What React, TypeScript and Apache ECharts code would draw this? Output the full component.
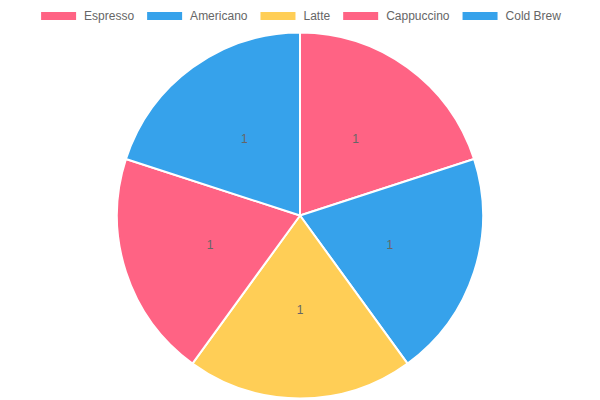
import React, { useEffect, useRef } from "react";
import * as echarts from "echarts";

const categories = ["Espresso", "Americano", "Latte", "Cappuccino", "Cold Brew"];
const values = [1, 1, 1, 1, 1];
const colors = ["#FF6384", "#36A2EB", "#FFCE56", "#FF6384", "#36A2EB"];

export default function App() {
  const ref = useRef<HTMLDivElement>(null);
  useEffect(() => {
    document.body.style.margin = "0";
    const chart = echarts.init(ref.current!, null, { renderer: "svg" });
    chart.setOption({
      animation: false,
      textStyle: { fontFamily: "Liberation Sans, Arial, sans-serif" },
      legend: {
        top: 5,
        left: "center",
        itemWidth: 37,
        itemHeight: 10,
        itemGap: 11,
        icon: "rect",
        textStyle: { color: "#666", fontSize: 12, padding: [0, 0, 0, 2] },
        data: categories,
      },
      series: [
        {
          type: "pie",
          center: [300, 215.5],
          radius: 183,
          startAngle: 90,
          clockwise: true,
          silent: true,
          itemStyle: { borderColor: "#fff", borderWidth: 2 },
          label: {
            show: true,
            position: "inside",
            formatter: "{c}",
            color: "#666",
            fontSize: 12,
          },
          labelLine: { show: false },
          emphasis: { disabled: true },
          data: categories.map((name, i) => ({
            name,
            value: values[i],
            itemStyle: { color: colors[i] },
          })),
        },
      ],
    });
    return () => chart.dispose();
  }, []);
  return <div ref={ref} style={{ width: 600, height: 400 }} />;
}
